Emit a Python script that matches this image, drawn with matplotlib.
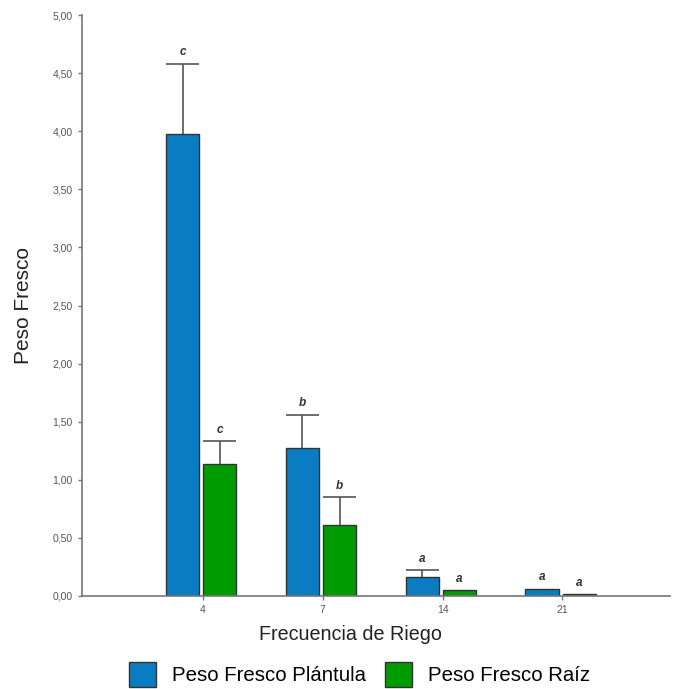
import numpy as np
import matplotlib.pyplot as plt

# Data
frecuencias = ['4', '7', '14', '21']
plantula = [3.98, 1.27, 0.16, 0.06]
plantula_err = [0.60, 0.29, 0.06, 0.0]
raiz = [1.14, 0.61, 0.05, 0.015]
raiz_err = [0.19, 0.24, 0.0, 0.0]
letras_plantula = ['c', 'b', 'a', 'a']
letras_raiz = ['c', 'b', 'a', 'a']

plt.rcParams['font.family'] = ['Liberation Sans', 'DejaVu Sans']

fig = plt.figure(figsize=(6.77, 6.89), dpi=100)
ax = fig.add_axes([0.121, 0.135, 0.869, 0.843])

x = np.arange(len(frecuencias))
w = 0.276
off_a = -0.17
off_v = 0.14
azul = '#0a7cc2'
verde = '#009b00'
gris = '#555555'

ax.bar(x + off_a, plantula, w, color=azul, edgecolor='#333333', linewidth=1.0,
       label='Peso Fresco Plántula', zorder=2)
ax.bar(x + off_v, raiz, w, color=verde, edgecolor='#333333', linewidth=1.0,
       label='Peso Fresco Raíz', zorder=2)

# Upper error bars only, cap as wide as the bar
for xs, vals, errs in [(x + off_a, plantula, plantula_err), (x + off_v, raiz, raiz_err)]:
    for xi, v, e in zip(xs, vals, errs):
        if e > 0:
            ax.vlines(xi, v, v + e, color=gris, linewidth=1.2, zorder=3)
            ax.hlines(v + e, xi - w / 2, xi + w / 2, color=gris, linewidth=1.2, zorder=3)

# Significance letters
for i in range(len(x)):
    ax.annotate(letras_plantula[i], (x[i] + off_a, plantula[i] + plantula_err[i]),
                xytext=(0, 4), textcoords='offset points', ha='center', va='bottom',
                fontsize=8.5, fontweight='bold', fontstyle='italic', color='#333333')
    ax.annotate(letras_raiz[i], (x[i] + off_v, raiz[i] + raiz_err[i]),
                xytext=(0, 4), textcoords='offset points', ha='center', va='bottom',
                fontsize=8.5, fontweight='bold', fontstyle='italic', color='#333333')

ax.set_xlim(-1.01, 3.9)
ax.set_ylim(0, 5)
ax.set_xticks(x)
ax.set_xticklabels(frecuencias)
yt = np.arange(0, 5.01, 0.5)
ax.set_yticks(yt)
ax.set_yticklabels([f'{v:.2f}'.replace('.', ',') for v in yt])

for s in ['top', 'right']:
    ax.spines[s].set_visible(False)
for s in ['left', 'bottom']:
    ax.spines[s].set_color('#777777')
    ax.spines[s].set_linewidth(1.2)
ax.tick_params(axis='both', colors='#777777', labelcolor='#555555', labelsize=7.5,
               length=3, width=1)

ax.set_xlabel('Frecuencia de Riego', fontsize=14.2, color='#222222')
ax.xaxis.set_label_coords(0.457, -0.05)
ax.set_ylabel('Peso Fresco', fontsize=15, color='#222222')
ax.yaxis.set_label_coords(-0.083, 0.5)

ax.legend(loc='upper center', bbox_to_anchor=(0.472, -0.093), ncol=2, frameon=False,
          fontsize=14.7, handlelength=1.3, handleheight=1.5, columnspacing=0.95,
          handletextpad=0.8, borderaxespad=0.2)

fig.savefig('out.png', dpi=100)
